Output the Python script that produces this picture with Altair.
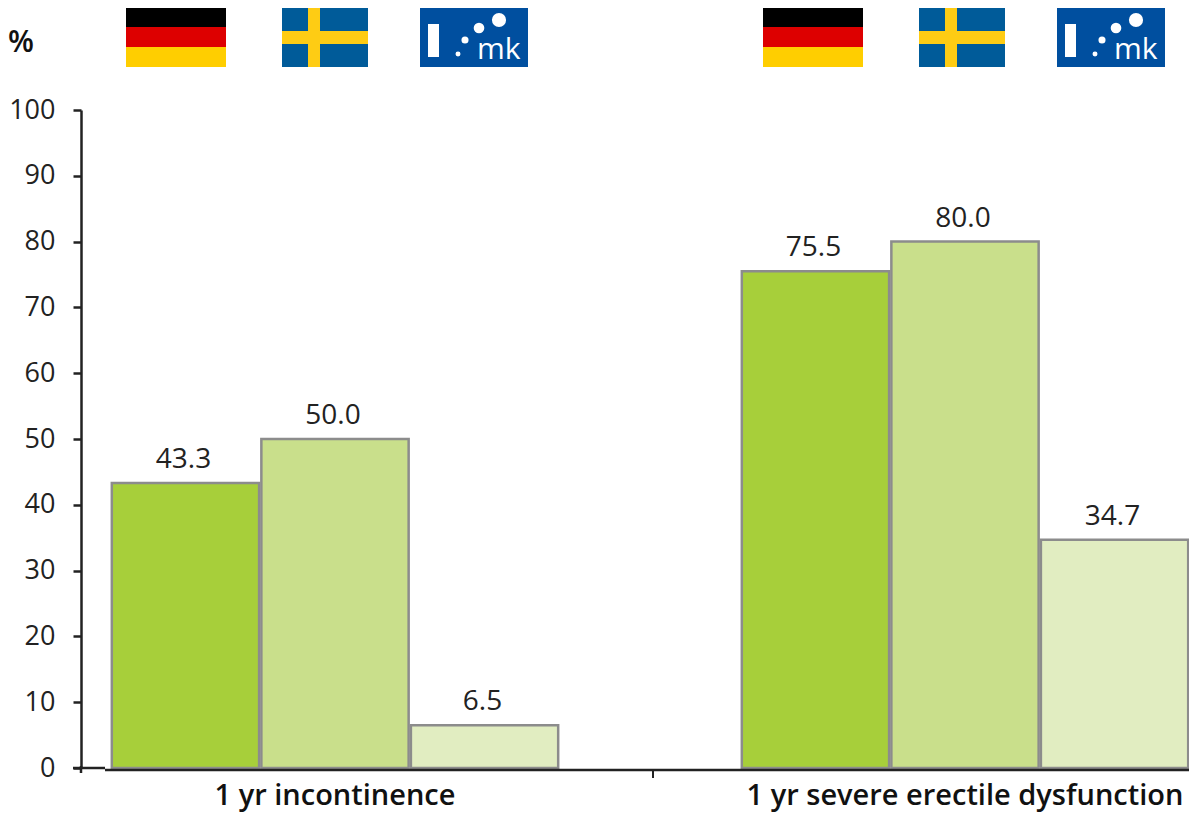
import altair as alt
import pandas as pd

FONT = "Open Sans"
categories = ["1 yr incontinence", "1 yr severe erectile dysfunction"]
series = ["Germany", "Sweden", "mk"]
series_colors = ["#A7CF3A", "#C9DF8B", "#E1EDC1"]
incontinence = [43.3, 50.0, 6.5]
erectile = [75.5, 80.0, 34.7]
y_ticks = list(range(0, 101, 10))

rows = []
for cat, vals in zip(categories, [incontinence, erectile]):
    for s, v in zip(series, vals):
        rows.append({"category": cat, "series": s, "value": v})
df = pd.DataFrame(rows)

OX, OY = 81, 110  # plot origin on the page
x_enc = alt.X("category:N", sort=categories, title=None,
              scale=alt.Scale(range=[20 - OX, 1280 - OX], paddingInner=0, paddingOuter=0),
              axis=alt.Axis(domain=False, ticks=False, labelAngle=0, labelFont=FONT, labelFontSize=29,
                            labelFontWeight=600, labelColor="#111111", labelPadding=27,
                            labelLimit=0, labelOverlap=False, labelBaseline="middle",
                            labelFlush=False))
offset = alt.XOffset("series:N", sort=series,
                     scale=alt.Scale(paddingInner=0.015, paddingOuter=0.614))
y_enc = alt.Y("value:Q", title=None, scale=alt.Scale(domain=[0, 100], nice=False),
              axis=alt.Axis(values=y_ticks, grid=False, domainColor="#222222", domainWidth=2.5,
                            tickColor="#222222", tickWidth=2.5, tickSize=8,
                            labelFont=FONT, labelFontSize=27, labelColor="#222222", labelPadding=18))

bars = alt.Chart(df).mark_bar(stroke="#8C8C8C", strokeWidth=2.5, clip=False).encode(
    x=x_enc, xOffset=offset, y=y_enc,
    color=alt.Color("series:N", sort=series, legend=None,
                    scale=alt.Scale(domain=series, range=series_colors)),
)
labels = alt.Chart(df).mark_text(font=FONT, fontSize=28, color="#222222", dy=-9, dx=-2, baseline="bottom").encode(
    x=alt.X("category:N", sort=categories), xOffset=offset, y="value:Q",
    text=alt.Text("value:Q", format=".1f"),
)


def piece(x, x2, y, y2, color):
    d = pd.DataFrame({"k": [0]})
    return alt.Chart(d).mark_rect(color=color).encode(
        x=alt.value(x - OX), x2=alt.value(x2 - OX), y=alt.value(y - OY), y2=alt.value(y2 - OY))


def dot(x, y, r, color="#FFFFFF"):
    d = pd.DataFrame({"k": [0]})
    return alt.Chart(d).mark_circle(color=color, opacity=1, size=3.14159 * r * r).encode(
        x=alt.value(x - OX), y=alt.value(y - OY))


def label(x, y, txt, size, weight="normal", color="#111111", align="left"):
    d = pd.DataFrame({"t": [txt]})
    return alt.Chart(d).mark_text(font=FONT, fontSize=size, fontWeight=weight, color=color,
                                  align=align, baseline="alphabetic").encode(
        x=alt.value(x - OX), y=alt.value(y - OY), text="t:N")


def rule(x, x2, y, y2, w=2.5, color="#222222"):
    d = pd.DataFrame({"k": [0]})
    return alt.Chart(d).mark_rule(color=color, strokeWidth=w).encode(
        x=alt.value(x - OX), x2=alt.value(x2 - OX), y=alt.value(y - OY), y2=alt.value(y2 - OY))


extras = []
for dx in [0, 637]:
    extras += [
        piece(126 + dx, 226 + dx, 8, 27, "#000000"),
        piece(126 + dx, 226 + dx, 27, 47, "#DD0000"),
        piece(126 + dx, 226 + dx, 47, 67, "#FFCE00"),
        piece(282 + dx, 368 + dx, 8, 67, "#005B99"),
        piece(308 + dx, 320 + dx, 8, 67, "#FECC14"),
        piece(282 + dx, 368 + dx, 31, 44, "#FECC14"),
        piece(420 + dx, 528 + dx, 8, 67, "#004F9F"),
        piece(428 + dx, 439 + dx, 24, 57, "#FFFFFF"),
        dot(499 + dx, 20, 8),
        dot(479 + dx, 28, 6),
        dot(465 + dx, 40, 4),
        dot(458 + dx, 54, 2.8),
        label(477 + dx, 59, "mk", 30, color="#FFFFFF"),
    ]
extras += [
    label(8, 52, "%", 30, weight=600),
    rule(73, 105, 768, 768),
    rule(105, 1189, 770, 770),
    rule(81, 81, 766, 773),
    rule(653, 653, 770, 778, w=2),
]

chart = alt.layer(bars, labels, *extras).properties(
    width=1108, height=658,
    padding={"left": OX - 8, "top": OY - 8, "right": 0, "bottom": 44},
    autosize=alt.AutoSizeParams(type="none"),
    background="#FFFFFF",
).configure_view(stroke=None)

chart.save("out.html", embed_options={"renderer": "svg", "actions": False})
